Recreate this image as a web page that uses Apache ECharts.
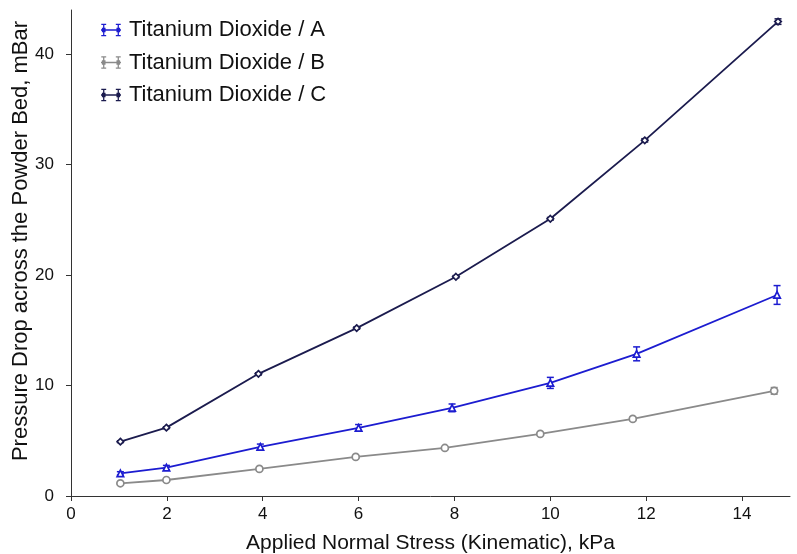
<!DOCTYPE html>
<html>
<head>
<meta charset="utf-8">
<script src="https://cdn.jsdelivr.net/npm/echarts@6/dist/echarts.min.js"></script>
<style>html,body{margin:0;padding:0;background:#fff}#c{width:797px;height:554px}</style>
</head>
<body>
<div id="c"></div>
<script>
// Data
var seriesNames = ['Titanium Dioxide / A', 'Titanium Dioxide / B', 'Titanium Dioxide / C'];
var xA = [1.03, 1.99, 3.95, 6.0, 7.95, 10.0, 11.8, 14.73];
var yA = [2.05, 2.57, 4.45, 6.17, 7.98, 10.24, 12.87, 18.2];
var eA = [0.15, 0.2, 0.25, 0.3, 0.35, 0.5, 0.63, 0.85];
var xB = [1.03, 1.99, 3.93, 5.94, 7.8, 9.79, 11.72, 14.67];
var yB = [1.15, 1.45, 2.45, 3.54, 4.35, 5.62, 6.98, 9.52];
var eB = [0.08, 0.08, 0.1, 0.1, 0.1, 0.12, 0.15, 0.3];
var xC = [1.03, 1.99, 3.91, 5.96, 8.03, 10.0, 11.97, 14.75];
var yC = [4.92, 6.19, 11.06, 15.2, 19.85, 25.1, 32.2, 42.95];
var eC = [0.08, 0.08, 0.1, 0.1, 0.1, 0.12, 0.15, 0.25];
var xTicks = [0, 2, 4, 6, 8, 10, 12, 14];
var yTicks = [0, 10, 20, 30, 40];

var colors = ['#1c1cd0', '#8a8a8a', '#1b1b4e'];
var symbols = ['triangle', 'circle', 'diamond'];
var legendIcon = 'path://M0 6.3H22V7.7H0Z M2.3 0H3.7V14H2.3Z M0.3 0H5.7V1.4H0.3Z M0.3 12.6H5.7V14H0.3Z M18.3 0H19.7V14H18.3Z M16.3 0H21.7V1.4H16.3Z M16.3 12.6H21.7V14H16.3Z M17 4.5H21V9.5H17Z M1 4.5H5V9.5H1Z';
var sans = 'Liberation Sans, Arial, sans-serif';

function pts(xs, ys) { return xs.map(function (x, i) { return [x, ys[i]]; }); }
function errPts(xs, ys, es) { return xs.map(function (x, i) { return [x, ys[i] - es[i], ys[i] + es[i]]; }); }

var sets = [[xA, yA, eA], [xB, yB, eB], [xC, yC, eC]];
var series = [];
sets.forEach(function (s, k) {
  series.push({
    name: seriesNames[k] + ' err',
    type: 'custom',
    silent: true,
    z: 3,
    data: errPts(s[0], s[1], s[2]),
    renderItem: function (params, api) {
      var lo = api.coord([api.value(0), api.value(1)]);
      var hi = api.coord([api.value(0), api.value(2)]);
      var w = 3.5;
      var st = { stroke: colors[k], lineWidth: 1.5 };
      return {
        type: 'group',
        children: [
          { type: 'line', shape: { x1: lo[0], y1: lo[1], x2: hi[0], y2: hi[1] }, style: st },
          { type: 'line', shape: { x1: lo[0] - w, y1: lo[1], x2: lo[0] + w, y2: lo[1] }, style: st },
          { type: 'line', shape: { x1: hi[0] - w, y1: hi[1], x2: hi[0] + w, y2: hi[1] }, style: st }
        ]
      };
    }
  });
  series.push({
    name: seriesNames[k],
    type: 'line',
    z: 4,
    data: pts(s[0], s[1]),
    symbol: symbols[k],
    symbolSize: k === 1 ? 7 : 6.5,
    showAllSymbol: true,
    lineStyle: { color: colors[k], width: 1.8 },
    itemStyle: { color: '#fff', borderColor: colors[k], borderWidth: 1.7 },
    emphasis: { disabled: true }
  });
});

var chart = echarts.init(document.getElementById('c'), null, { renderer: 'canvas' });
chart.setOption({
  animation: false,
  backgroundColor: '#fff',
  grid: { left: 71, right: 7, top: 10, bottom: 58, containLabel: false, outerBoundsMode: 'none' },
  legend: {
    orient: 'vertical',
    left: 96,
    top: 14,
    itemGap: 10.5,
    itemWidth: 20,
    itemHeight: 13,
    icon: legendIcon,
    textStyle: { fontFamily: sans, fontSize: 22, color: '#111', padding: [0, 0, 0, 3] },
    data: seriesNames.map(function (n, k) {
      return { name: n, icon: legendIcon, itemStyle: { color: colors[k], borderWidth: 0 } };
    })
  },
  xAxis: {
    type: 'value',
    min: 0, max: 15, interval: 2,
    name: 'Applied Normal Stress (Kinematic), kPa',
    nameLocation: 'middle',
    nameGap: 37,
    nameMoveOverlap: false,
    nameTextStyle: { fontFamily: sans, fontSize: 21, color: '#111' },
    axisLine: { lineStyle: { color: '#333', width: 1 } },
    axisTick: { show: true, length: 5, customValues: xTicks, lineStyle: { color: '#333' } },
    axisLabel: { customValues: xTicks, fontFamily: sans, fontSize: 17, color: '#111', margin: 10 },
    splitLine: { show: false }
  },
  yAxis: {
    type: 'value',
    min: 0, max: 44, interval: 10,
    name: 'Pressure Drop across the Powder Bed, mBar',
    nameLocation: 'middle',
    nameGap: 39,
    nameMoveOverlap: false,
    nameTextStyle: { fontFamily: sans, fontSize: 22, color: '#111', padding: [0, 0, 0, 24] },
    axisLine: { show: true, lineStyle: { color: '#333', width: 1 } },
    axisTick: { show: true, length: 5, customValues: yTicks, lineStyle: { color: '#333' } },
    axisLabel: { customValues: yTicks, fontFamily: sans, fontSize: 17, color: '#111', margin: 17 },
    splitLine: { show: false }
  },
  series: series
});
</script>
</body>
</html>
